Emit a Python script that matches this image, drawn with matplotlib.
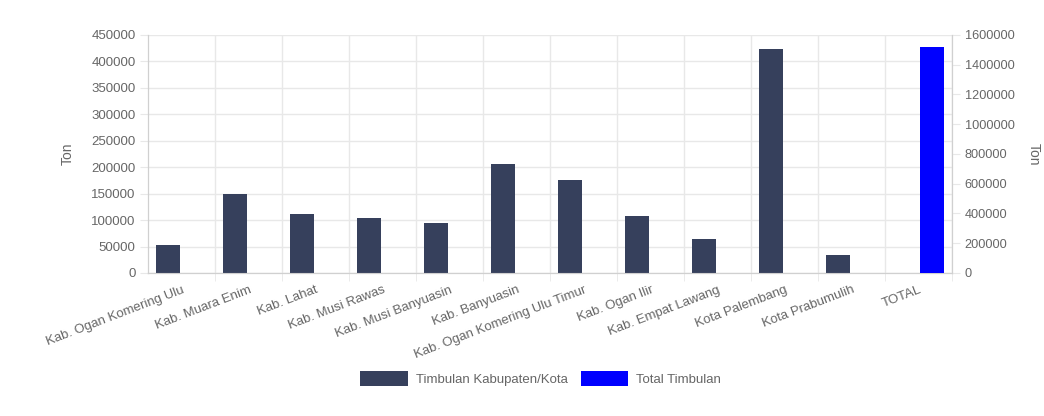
import matplotlib.pyplot as plt
import numpy as np

plt.rcParams['font.family'] = ['Liberation Sans', 'DejaVu Sans']

# Data timbulan sampah per kabupaten/kota (ton)
wilayah = ['Kab. Ogan Komering Ulu', 'Kab. Muara Enim', 'Kab. Lahat', 'Kab. Musi Rawas',
           'Kab. Musi Banyuasin', 'Kab. Banyuasin', 'Kab. Ogan Komering Ulu Timur',
           'Kab. Ogan Ilir', 'Kab. Empat Lawang', 'Kota Palembang', 'Kota Prabumulih', 'TOTAL']
timbulan = [52800, 148500, 111900, 103200, 93800, 207000, 174900, 107000, 64900, 423400, 33400, 0]
total = [0, 0, 0, 0, 0, 0, 0, 0, 0, 0, 0, 1521000]

left_ticks = np.arange(0, 450001, 50000)
right_ticks = np.arange(0, 1600001, 200000)

grid_c = '#e8e8e8'
text_c = '#666666'
bar_c = '#36405c'

fig = plt.figure(figsize=(10.44, 4.16), dpi=100)
ax = fig.add_axes([0.1418, 0.3438, 0.7702, 0.5721])
ax2 = ax.twinx()

x = np.arange(len(wilayah))
ax.bar(x - 0.2, timbulan, width=0.36, color=bar_c, label='Timbulan Kabupaten/Kota', zorder=3)
ax2.bar(x + 0.2, total, width=0.36, color='#0000ff', label='Total Timbulan', zorder=3)

ax.set_xlim(-0.5, len(wilayah) - 0.5)
ax.set_ylim(0, 450000)
ax2.set_ylim(0, 1600000)
ax.set_yticks(left_ticks)
ax2.set_yticks(right_ticks)
ax.set_yticklabels([str(v) for v in left_ticks])
ax2.set_yticklabels([str(v) for v in right_ticks])

# grid horizontal + vertikal di batas kategori
ax.set_axisbelow(True)
ax.grid(axis='y', color=grid_c, linewidth=1)
ax.set_xticks(x + 0.5, minor=True)
ax.grid(axis='x', which='minor', color=grid_c, linewidth=1)
ax.set_xticks(x)
ax.set_xticklabels(wilayah, rotation=21, ha='right', rotation_mode='anchor')

ax.tick_params(axis='x', which='major', length=0, pad=8, labelsize=9.5, labelcolor=text_c)
ax.tick_params(axis='x', which='minor', length=6, color=grid_c)
ax.tick_params(axis='y', length=6, color=grid_c, labelsize=9.5, labelcolor=text_c, pad=3)
ax2.tick_params(axis='y', length=6, color=grid_c, labelsize=9.2, labelcolor=text_c, pad=3)

for a in (ax, ax2):
    for s in a.spines.values():
        s.set_color('#d0d0d0')
    a.spines['top'].set_visible(False)

ax.set_ylabel('Ton', color=text_c, fontsize=10, labelpad=12)
ax2.set_ylabel('Ton', color=text_c, fontsize=10, rotation=270, labelpad=19)

h1, l1 = ax.get_legend_handles_labels()
h2, l2 = ax2.get_legend_handles_labels()
fig.legend(h1 + h2, l1 + l2, loc='center', bbox_to_anchor=(0.518, 0.09), ncol=2,
           frameon=False, fontsize=9.5, labelcolor=text_c, handlelength=3.6,
           handleheight=1.3, columnspacing=1.0, handletextpad=0.6)

fig.savefig('out.png', dpi=100)
